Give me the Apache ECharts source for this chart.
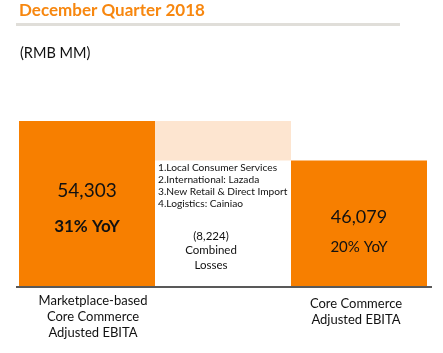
<!DOCTYPE html>
<html><head><meta charset="utf-8">
<script src="https://cdn.jsdelivr.net/npm/echarts@6/dist/echarts.min.js"></script>
<style>html,body{margin:0;padding:0;background:#fff}#c{width:443px;height:353px}</style>
</head><body><div id="c"></div>
<script>
var categories = ['Marketplace-based\nCore Commerce\nAdjusted EBITA', '', 'Core Commerce\nAdjusted EBITA'];
var barValues = [54303, 8224, 46079];
var baseValues = ['-', 46079, '-'];
var yoyLabels = ['31% YoY', '', '20% YoY'];
var lossItems = ['1.Local Consumer Services', '2.International: Lazada', '3.New Retail & Direct Import', '4.Logistics: Cainiao'];
var lossLabel = ['(8,224)', 'Combined', 'Losses'];

var FONT = 'Lato, "Noto Sans", sans-serif';
var ORANGE = '#F77F00';
var PEACH = '#FDE5D0';

function fmt(v){ return v.toLocaleString('en-US'); }

var chart = echarts.init(document.getElementById('c'), null, {renderer:'canvas'});
chart.setOption({
  animation: false,
  backgroundColor: '#fff',
  textStyle: {fontFamily: FONT},
  title: [
    {text: 'December Quarter 2018', left: 14, top: -3,
     textStyle: {fontFamily: FONT, fontSize: 17, fontWeight: 'bold', color: '#F7870F'}},
    {text: '(RMB MM)', left: 15, top: 41,
     textStyle: {fontFamily: FONT, fontSize: 14.5, fontWeight: 'normal', color: '#111'}}
  ],
  graphic: [
    {type: 'rect', shape: {x: 16, y: 23, width: 384, height: 3}, style: {fill: '#E0DED9'}, silent: true},
    {type: 'rect', shape: {x: 16, y: 286, width: 416, height: 2}, style: {fill: '#595959'}, silent: true, z: 10}
  ],
  grid: {left: 19, right: 16, top: 121, bottom: 67},
  xAxis: {
    type: 'category',
    data: categories.map(function(c, i){
      if (i === 0) return {value: c, textStyle: {padding: [0, 0, 0, 12]}};
      if (i === 2) return {value: c, textStyle: {padding: [3, 6, 0, 0]}};
      return c;
    }),
    axisLine: {show: false},
    axisTick: {show: false},
    axisLabel: {interval: 0, margin: 7, fontFamily: FONT, fontSize: 13, lineHeight: 16, color: '#111'}
  },
  yAxis: {
    type: 'value', min: 20000, max: 54303,
    show: false, splitLine: {show: false}
  },
  series: [
    {
      type: 'bar', stack: 'w', barWidth: '100%', barGap: 0, barCategoryGap: 0,
      data: baseValues,
      itemStyle: {color: 'rgba(0,0,0,0)'},
      label: {
        show: true, position: [3, 1], align: 'left', verticalAlign: 'top',
        fontFamily: FONT, fontSize: 10.2, lineHeight: 12, color: '#111',
        formatter: function(p){ return p.dataIndex === 1 ? lossItems.join('\n') : ''; }
      },
      silent: true
    },
    {
      type: 'bar', stack: 'w', barWidth: '100%', barGap: 0, barCategoryGap: 0,
      data: barValues.map(function(v, i){
        if (i === 1) {
          return {value: v, itemStyle: {color: PEACH},
            label: {show: true, position: [56, 108], align: 'center', verticalAlign: 'top',
              fontFamily: FONT, fontSize: 11.5, lineHeight: 14.5, color: '#111',
              formatter: lossLabel.join('\n')}};
        }
        if (i === 0) {
          return {value: v, itemStyle: {color: ORANGE},
            label: {show: true, position: [68, 52], align: 'center', verticalAlign: 'top',
              formatter: '{v|' + fmt(v) + '}\n{y|' + yoyLabels[i] + '}',
              rich: {v: {fontFamily: FONT, fontSize: 19, color: '#111', lineHeight: 36, align: 'center'},
                     y: {fontFamily: FONT, fontSize: 17, fontWeight: 'bold', color: '#111', lineHeight: 36, align: 'center'}}}};
        }
        return {value: v, itemStyle: {color: ORANGE},
          label: {show: true, position: [68, 42], align: 'center', verticalAlign: 'top',
            formatter: '{v|' + fmt(v) + '}\n{y|' + yoyLabels[i] + '}',
            rich: {v: {fontFamily: FONT, fontSize: 18, color: '#111', lineHeight: 30, align: 'center'},
                   y: {fontFamily: FONT, fontSize: 15, color: '#111', lineHeight: 30, align: 'center'}}}};
      }),
      silent: true
    }
  ]
});
</script>
</body></html>
